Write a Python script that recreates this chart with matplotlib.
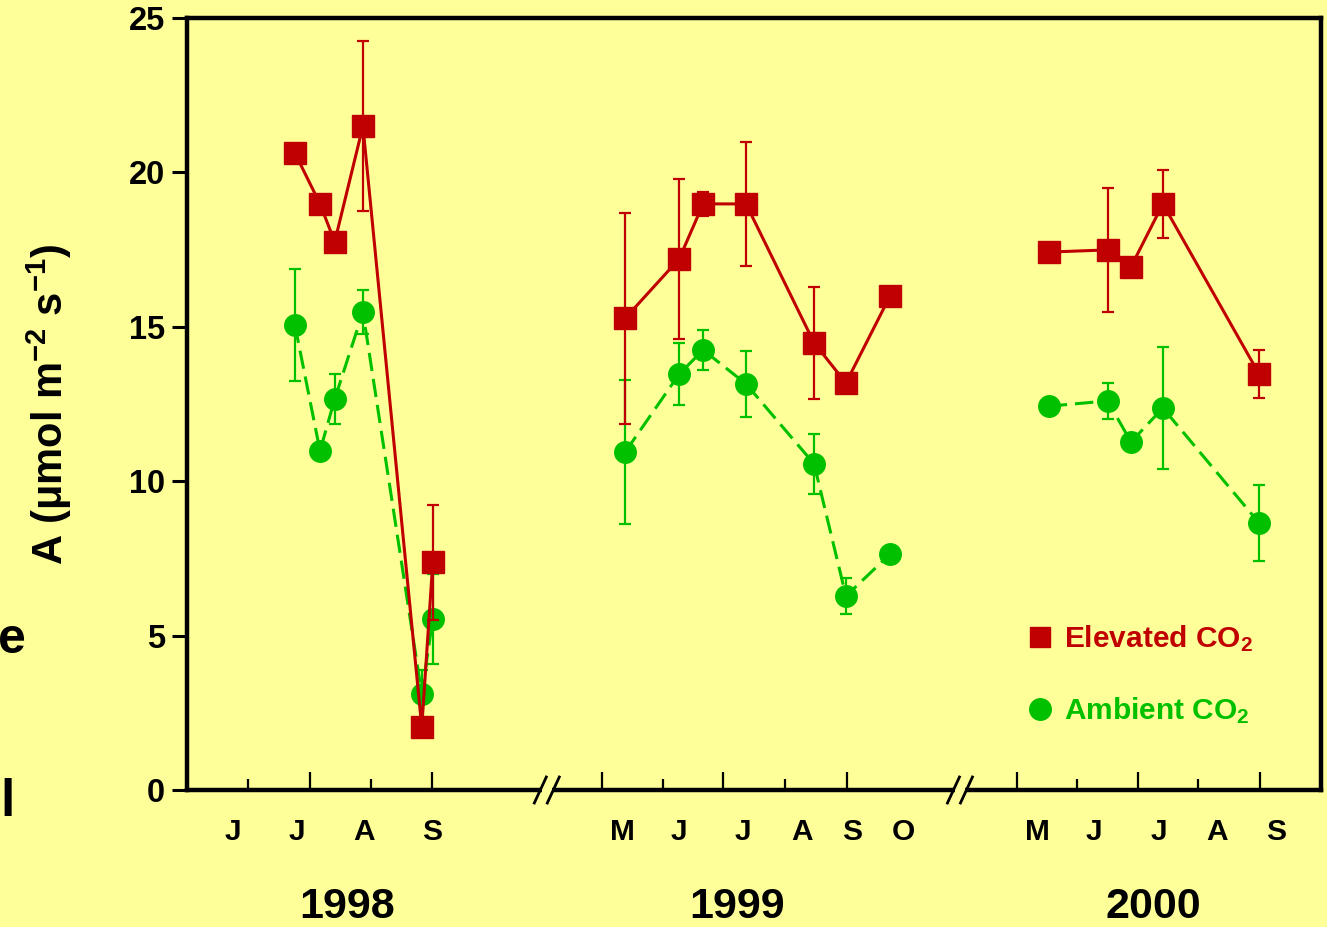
import matplotlib
matplotlib.use('Agg')
import matplotlib.pyplot as plt
import matplotlib.transforms as mtransforms
from matplotlib.lines import Line2D
from matplotlib.patches import Rectangle

plt.rcParams['font.family'] = ['Liberation Sans', 'DejaVu Sans']
plt.rcParams['font.weight'] = 'bold'
plt.rcParams['mathtext.fontset'] = 'custom'
plt.rcParams['mathtext.rm'] = 'Liberation Sans:bold'
plt.rcParams['mathtext.bf'] = 'Liberation Sans:bold'
plt.rcParams['mathtext.it'] = 'Liberation Sans:bold:italic'
plt.rcParams['mathtext.default'] = 'bf'

BG = '#FFFF99'
RED = '#C00000'
GREEN = '#00C000'

# ---- data (x = position along the broken month axis) ----
x98 = [1.76, 2.17, 2.41, 2.87, 3.83, 4.01]
elev98 = [20.63, 18.98, 17.75, 21.50, 2.04, 7.38]
elev98_err = [0, 0, 0, 2.75, 0, 1.86]
amb98 = [15.06, 10.98, 12.66, 15.48, 3.11, 5.54]
amb98_err = [1.82, 0, 0.81, 0.72, 0.78, 1.46]

x99 = [7.15, 8.03, 8.42, 9.12, 10.23, 10.75, 11.47]
elev99 = [15.28, 17.20, 18.98, 18.98, 14.48, 13.18, 16.00]
elev99_err = [3.42, 2.60, 0.40, 2.00, 1.81, 0, 0]
amb99 = [10.95, 13.47, 14.25, 13.15, 10.56, 6.28, 7.64]
amb99_err = [2.33, 1.00, 0.66, 1.08, 0.97, 0.57, 0]

x00 = [14.06, 15.02, 15.40, 15.92, 17.49]
elev00 = [17.42, 17.49, 16.94, 18.98, 13.47]
elev00_err = [0, 2.02, 0, 1.11, 0.78]
amb00 = [12.43, 12.60, 11.27, 12.37, 8.65]
amb00_err = [0, 0.58, 0, 1.98, 1.23]

major_ticks = [2.0, 4.0, 6.77, 8.74, 10.77, 13.54, 15.51, 17.50]
minor_ticks = [1.0, 3.0, 7.77, 9.76, 14.52, 16.49]

month_labels = ['J', 'J', 'A', 'S',
                'M', 'J', 'J', 'A', 'S', 'O',
                'M', 'J', 'J', 'A', 'S']
month_pos = [0.75, 1.79, 2.89, 4.00,
             7.10, 8.03, 9.07, 10.03, 10.85, 11.68,
             13.87, 14.80, 15.86, 16.80, 17.77]
years = ['1998', '1999', '2000']
year_pos = [2.61, 8.97, 15.76]
breaks = [5.87, 12.61]
yticks = [0, 5, 10, 15, 20, 25]

fig = plt.figure(figsize=(13.27, 9.27), dpi=100, facecolor=BG)
ax = fig.add_axes([187 / 1327, 1 - 790 / 927, (1321 - 187) / 1327, (790 - 18) / 927])
ax.set_facecolor(BG)
ax.set_xlim(0, 18.5)
ax.set_ylim(0, 25)

for s in ax.spines.values():
    s.set_linewidth(3.2)
    s.set_color('black')

dash = (0, (6, 2.6))
for xs, ys, es in [(x98, amb98, amb98_err), (x99, amb99, amb99_err), (x00, amb00, amb00_err)]:
    ax.errorbar(xs, ys, yerr=es, fmt='none', ecolor=GREEN, elinewidth=1.6,
                capsize=4.5, capthick=1.6, zorder=3)
    ax.plot(xs, ys, color=GREEN, lw=2.2, ls=dash, zorder=3.2)
    ax.plot(xs, ys, color=GREEN, lw=0, marker='o', ms=15.5, zorder=3.4)

for xs, ys, es in [(x98, elev98, elev98_err), (x99, elev99, elev99_err), (x00, elev00, elev00_err)]:
    ax.errorbar(xs, ys, yerr=es, fmt='none', ecolor=RED, elinewidth=1.6,
                capsize=4.5, capthick=1.6, zorder=3.6)
    ax.plot(xs, ys, color=RED, lw=2.2, zorder=3.8)
    ax.plot(xs, ys, color=RED, lw=0, marker='s', ms=15.5, zorder=4)

# ticks
ax.set_yticks(yticks)
ax.set_yticklabels([str(v) for v in yticks])
ax.tick_params(axis='y', direction='out', length=11, width=2.2, pad=5,
               labelsize=23.5)
for lab in ax.get_yticklabels():
    lab.set_fontweight('bold')
ax.set_xticks(major_ticks)
ax.set_xticks(minor_ticks, minor=True)
ax.tick_params(axis='x', which='major', direction='in', length=13, width=1.6,
               labelbottom=False)
ax.tick_params(axis='x', which='minor', direction='in', length=8, width=1.6,
               labelbottom=False)

trans = mtransforms.blended_transform_factory(ax.transData, ax.transAxes)
for lab, xp in zip(month_labels, month_pos):
    ax.text(xp, -0.0544, lab, transform=trans, ha='center', va='center',
            fontsize=21.5, fontweight='bold')
for lab, xp in zip(years, year_pos):
    ax.text(xp, -0.1516, lab, transform=trans, ha='center', va='center',
            fontsize=31, fontweight='bold')

# axis break marks
pxx = 1 / 61.3
pxy = 1 / 772
for xb in breaks:
    ax.add_patch(Rectangle((xb - 5 * pxx, -4 * pxy), 10 * pxx, 8 * pxy,
                           transform=trans, facecolor=BG, edgecolor='none',
                           clip_on=False, zorder=5))
    for off in (-6.5, 6.5):
        c = xb + off * pxx
        ax.add_line(Line2D([c - 6 * pxx, c + 6 * pxx], [-13 * pxy, 13 * pxy],
                           transform=trans, color='black', lw=2.0,
                           clip_on=False, zorder=6))

ax.set_ylabel(r'A ($\mathbf{\mu}$mol m$^{-2}$ s$^{-1}$)', fontsize=30,
              fontweight='bold', labelpad=0)
ax.yaxis.set_label_coords(-(187 - 74) / 1134, 0.5)

handles = [Line2D([], [], color=RED, marker='s', ls='none', ms=15),
           Line2D([], [], color=GREEN, marker='o', ms=15.5, ls='none')]
leg = ax.legend(handles, ['Elevated CO$_2$', 'Ambient CO$_2$'],
                loc='upper left', bbox_to_anchor=((1028 - 187) / 1134, (790 - 623) / 772),
                frameon=False, fontsize=21.5, handlelength=0.8, handletextpad=0.4,
                labelspacing=1.4, borderpad=0, borderaxespad=0,
                labelcolor=[RED, GREEN])
for t in leg.get_texts():
    t.set_fontweight('bold')

# cropped fragments at the left edge
fig.text(26 / 1327, 1 - 640 / 927, 'e', ha='right', va='center', fontsize=36,
         fontweight='bold')
fig.text(0.0, 1 - 803 / 927, 'l', ha='left', va='center', fontsize=37,
         fontweight='bold')

fig.savefig('out.png', dpi=100, facecolor=BG)
